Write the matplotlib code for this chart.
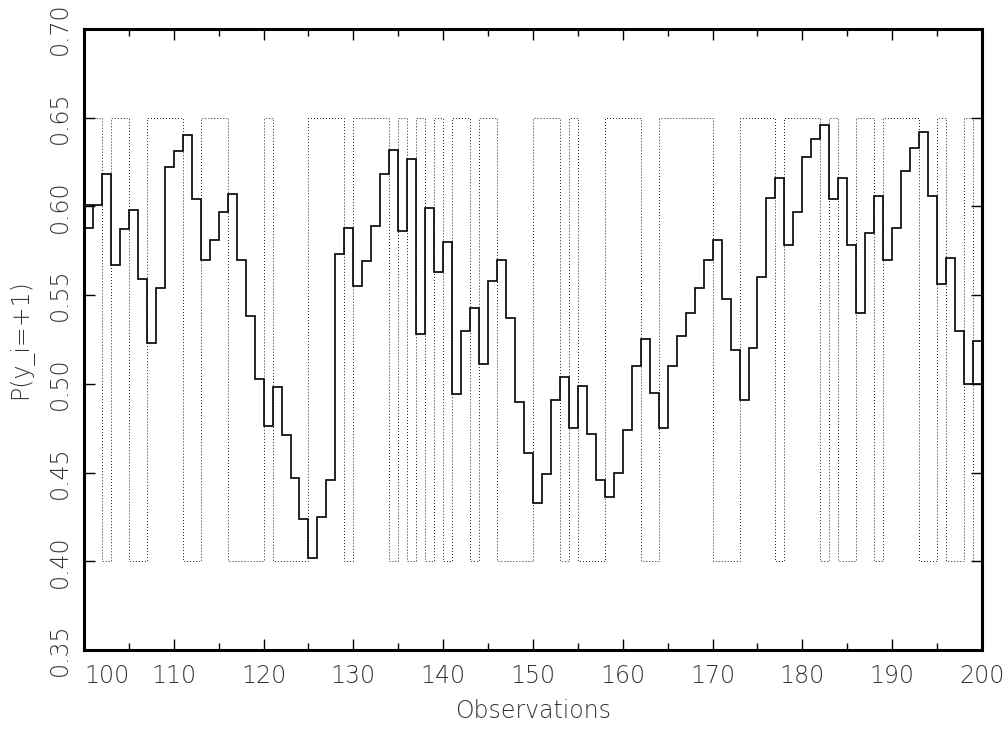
import numpy as np
import matplotlib
matplotlib.use("Agg")
import matplotlib.pyplot as plt

# bin edges: observations 100..200
obs_edges = np.arange(100, 201)

# P(y_i=+1) per observation 100..199
prob = [0.588, 0.601, 0.618, 0.567, 0.587, 0.598, 0.559, 0.523, 0.554, 0.622,
        0.631, 0.640, 0.604, 0.570, 0.581, 0.597, 0.607, 0.570, 0.538, 0.503,
        0.476, 0.498, 0.471, 0.447, 0.424, 0.402, 0.425, 0.446, 0.573, 0.588,
        0.555, 0.569, 0.589, 0.618, 0.632, 0.586, 0.627, 0.528, 0.599, 0.563,
        0.580, 0.494, 0.530, 0.543, 0.511, 0.558, 0.570, 0.537, 0.490, 0.461,
        0.433, 0.449, 0.491, 0.504, 0.475, 0.499, 0.472, 0.446, 0.436, 0.450,
        0.474, 0.510, 0.525, 0.495, 0.475, 0.510, 0.527, 0.540, 0.554, 0.570,
        0.581, 0.548, 0.519, 0.491, 0.520, 0.560, 0.605, 0.616, 0.578, 0.597,
        0.628, 0.638, 0.646, 0.604, 0.616, 0.578, 0.540, 0.585, 0.606, 0.570,
        0.588, 0.620, 0.633, 0.642, 0.606, 0.556, 0.571, 0.530, 0.500, 0.524]

# observed labels (1 -> y=+1, 0 -> y=-1)
obs_y = [1, 1, 0, 1, 1, 0, 0, 1, 1, 1,
         1, 0, 0, 1, 1, 1, 0, 0, 0, 0,
         1, 0, 0, 0, 0, 1, 1, 1, 1, 0,
         1, 1, 1, 1, 0, 1, 0, 1, 0, 1,
         0, 1, 1, 0, 1, 1, 0, 0, 0, 0,
         1, 1, 1, 0, 1, 0, 0, 0, 1, 1,
         1, 1, 0, 0, 1, 1, 1, 1, 1, 1,
         0, 0, 0, 1, 1, 1, 1, 0, 1, 1,
         1, 1, 0, 1, 0, 0, 1, 1, 0, 1,
         1, 1, 1, 0, 0, 1, 0, 0, 1, 0]

# levels used to show the labels on the same axis
y_hi, y_lo = 0.65, 0.40

x_ticks = np.arange(100, 201, 10)
y_ticks = np.arange(0.35, 0.701, 0.05)

fig = plt.figure(figsize=(10.08, 7.29), dpi=100)
ax = fig.add_axes([0.0833, 0.1084, 0.8909, 0.8518])

label_lvl = np.where(np.array(obs_y) == 1, y_hi, y_lo)
ax.stairs(label_lvl, obs_edges, baseline=None, color="#1a1a1a",
          linewidth=0.7, linestyle=(0, (1, 2.1)))

ax.stairs(prob, obs_edges, baseline=None, color="black", linewidth=1.2)
# neighbouring values carried into the first and last bins
ax.hlines([prob[1], prob[-2]], [obs_edges[0], obs_edges[-2]],
          [obs_edges[1], obs_edges[-1]], color="black", linewidth=1.2)

ax.set_xlim(100, 200)
ax.set_ylim(0.35, 0.70)

ax.set_xticks(x_ticks)
ax.set_xticks(np.arange(105, 200, 10), minor=True)
ax.set_xticklabels([str(t) for t in x_ticks])
ax.set_yticks(y_ticks)
ax.set_yticklabels(["%.2f" % t for t in y_ticks], rotation=90, va="center")

ax.tick_params(axis="both", which="major", direction="in", length=8, width=1,
               top=True, right=True, labelsize=17, colors="black",
               labelcolor="#333333")
ax.tick_params(axis="x", which="major", pad=10)
ax.tick_params(axis="y", which="major", pad=9)
ax.tick_params(axis="x", which="minor", direction="in", length=5, width=1,
               top=True)
ax.get_xticklabels()[0].set_ha("left")

for lab in ax.get_xticklabels() + ax.get_yticklabels():
    lab.set_fontweight("light")

for sp in ax.spines.values():
    sp.set_linewidth(2.2)

ax.set_xlabel("Observations", fontsize=17, color="#333333",
              fontweight="light", labelpad=8)
ax.set_ylabel("P(y_i=+1)", fontsize=17, color="#333333",
              fontweight="light", labelpad=10)

fig.savefig("out.png", dpi=100)
